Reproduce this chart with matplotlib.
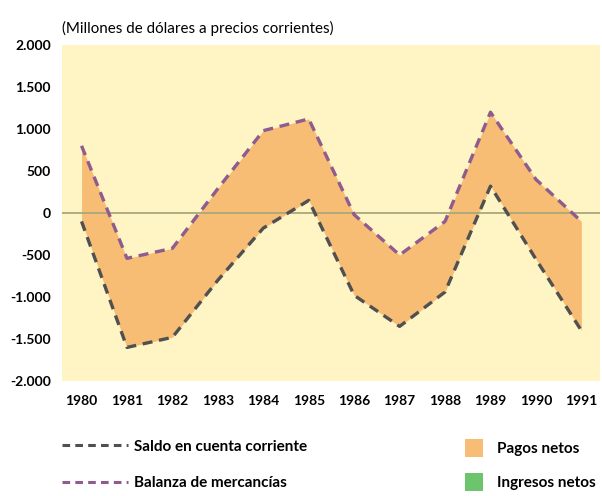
import numpy as np
import matplotlib

matplotlib.use('Agg')
import matplotlib.pyplot as plt
from matplotlib.lines import Line2D
from matplotlib.patches import Patch

years = [1980, 1981, 1982, 1983, 1984, 1985, 1986, 1987, 1988, 1989, 1990, 1991]
saldo = [-100, -1600, -1480, -800, -180, 150, -980, -1350, -940, 320, -550, -1400]
balanza = [800, -540, -420, 290, 980, 1120, -20, -500, -100, 1200, 400, -100]
yticks = [-2000, -1500, -1000, -500, 0, 500, 1000, 1500, 2000]
ytick_labels = ['-2.000', '-1.500', '-1.000', '-500', '0', '500', '1.000', '1.500', '2.000']

yellow = '#fef4c4'
orange = '#f8bd74'
green = '#6cc46c'
gray_line = '#505050'
purple_line = '#8e5c8e'

plt.rcParams['font.family'] = ['Lato', 'DejaVu Sans']

fig = plt.figure(figsize=(6.02, 4.96), dpi=100)
ax = fig.add_axes([62 / 602, 1 - 381 / 496, 538 / 602, 336 / 496])
ax.set_facecolor(yellow)
for s in ax.spines.values():
    s.set_visible(False)

x = np.array(years)
ax.fill_between(x, saldo, balanza, color=orange, lw=0)
ax.axhline(0, color='#a9a77a', lw=1.3, zorder=2)
ax.plot(x, saldo, color=gray_line, lw=2.4, dashes=(3, 2), zorder=3)
ax.plot(x, balanza, color=purple_line, lw=2.4, dashes=(3, 2), zorder=3)

ax.set_xlim(1979.57, 1991.41)
ax.set_ylim(-2000, 2000)
ax.set_xticks(years)
ax.set_xticklabels([str(y) for y in years], fontsize=10, fontweight='bold')
ax.set_yticks(yticks)
ax.set_yticklabels(ytick_labels, fontsize=10, fontweight='bold')
ax.tick_params(length=0)
ax.tick_params(axis='x', pad=10)
ax.tick_params(axis='y', pad=8)

fig.text(62 / 602, 1 - 28 / 496, '(Millones de dólares a precios corrientes)',
         fontsize=10.9, va='center', ha='left')

h1 = [Line2D([], [], color=gray_line, lw=2.2, dashes=(2.5, 1.7)),
      Line2D([], [], color=purple_line, lw=2.2, dashes=(2.5, 1.7))]
fig.legend(h1, ['Saldo en cuenta corriente', 'Balanza de mercancías'],
           loc='center left', bbox_to_anchor=(62 / 602, 1 - 465 / 496),
           frameon=False, handlelength=4.3, handletextpad=0.4,
           labelspacing=1.48, borderpad=0, borderaxespad=0,
           prop={'weight': 'bold', 'size': 11})

h2 = [Patch(color=orange, lw=0), Patch(color=green, lw=0)]
fig.legend(h2, ['Pagos netos', 'Ingresos netos'],
           loc='center left', bbox_to_anchor=(465 / 602, 1 - 465 / 496),
           frameon=False, handlelength=1.18, handleheight=1.44, handletextpad=0.9,
           labelspacing=1.05, borderpad=0, borderaxespad=0,
           prop={'weight': 'bold', 'size': 11})

fig.savefig('out.png', dpi=100)
